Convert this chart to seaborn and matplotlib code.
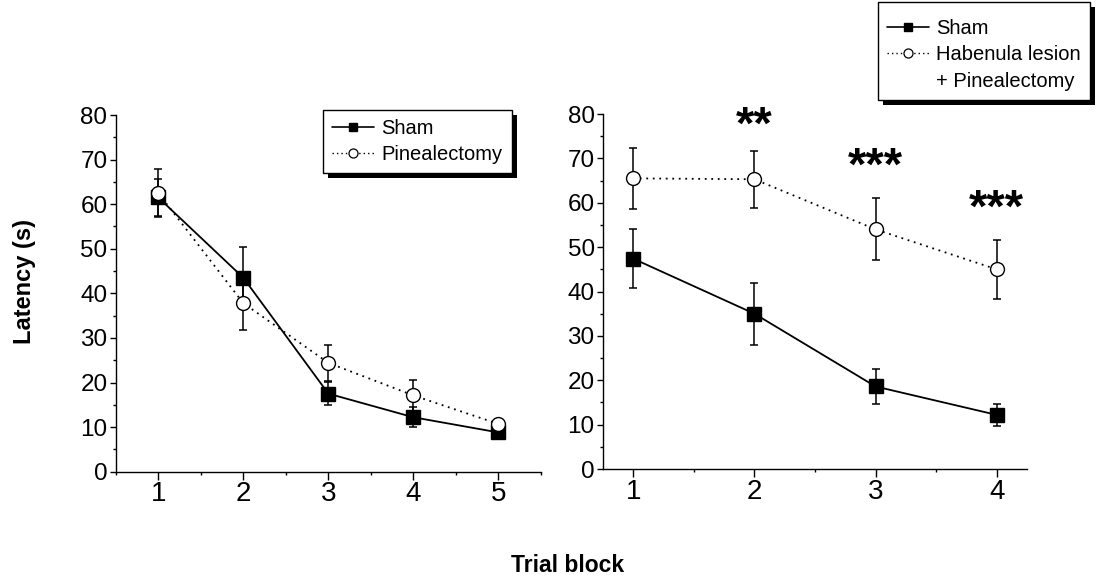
import matplotlib
matplotlib.use("Agg")
import matplotlib.pyplot as plt
from matplotlib.lines import Line2D
from matplotlib.patches import Rectangle
from matplotlib.ticker import MultipleLocator
import numpy as np
import pandas as pd
import seaborn as sns

# Experiment A: sham vs pinealectomy
blocks_a = [1, 2, 3, 4, 5]
sham_a = [61.5, 43.5, 17.5, 12.2, 8.8]
sham_a_sem = [4.2, 7.0, 2.6, 2.2, 0.8]
pinx_a = [62.5, 37.8, 24.4, 17.1, 10.7]
pinx_a_sem = [5.3, 6.0, 4.1, 3.5, 0.5]

# Experiment B: sham vs habenula lesion + pinealectomy
blocks_b = [1, 2, 3, 4]
sham_b = [47.4, 35.0, 18.6, 12.2]
sham_b_sem = [6.7, 7.0, 3.9, 2.4]
hab_b = [65.5, 65.3, 54.0, 45.0]
hab_b_sem = [6.8, 6.4, 7.0, 6.7]
stars_b = ["", "**", "***", "***"]
star_base = [0, 74.4, 65.1, 55.7]

sns.set_theme(style="ticks")
plt.rcParams["font.family"] = ["Liberation Sans", "DejaVu Sans"]
plt.rcParams["axes.linewidth"] = 1.0
for key in ("text.color", "axes.labelcolor", "xtick.color", "ytick.color",
            "axes.edgecolor"):
    plt.rcParams[key] = "black"

fig = plt.figure(figsize=(11, 5.75), dpi=100)
ax1 = fig.add_axes([0.1052, 0.1797, 0.3866, 0.6203])
ax2 = fig.add_axes([0.5482, 0.1843, 0.3854, 0.6174])

DOT = (1, 2.6)


def draw_group(ax, x, y, sem, marker, face, dashes, label):
    df = pd.DataFrame({"block": x, "latency": y})
    ax.errorbar(x, y, yerr=sem, fmt="none", ecolor="black", elinewidth=1.1,
                capsize=3, capthick=1.1, zorder=1.5)
    sns.lineplot(data=df, x="block", y="latency", ax=ax, color="black",
                 linewidth=1.3, marker=marker, markersize=10,
                 markerfacecolor=face, markeredgecolor="black",
                 markeredgewidth=1.0, errorbar=None,
                 label=label, legend=False, zorder=2)
    if dashes is not None:
        ax.lines[-1].set_dashes(dashes)


draw_group(ax1, blocks_a, sham_a, sham_a_sem, "s", "black", None, "Sham")
draw_group(ax1, blocks_a, pinx_a, pinx_a_sem, "o", "white", DOT, "Pinealectomy")
draw_group(ax2, blocks_b, sham_b, sham_b_sem, "s", "black", None, "Sham")
draw_group(ax2, blocks_b, hab_b, hab_b_sem, "o", "white", DOT,
           "Habenula lesion + Pinealectomy")

for xb, s, yy in zip(blocks_b, stars_b, star_base):
    if s:
        ax2.text(xb, yy, s, ha="center", va="baseline", fontsize=34,
                 fontweight="bold")

for ax in (ax1, ax2):
    ax.set_ylim(0, 80)
    ax.yaxis.set_major_locator(MultipleLocator(10))
    ax.yaxis.set_minor_locator(MultipleLocator(5))
    ax.xaxis.set_major_locator(MultipleLocator(1))
    ax.xaxis.set_minor_locator(MultipleLocator(0.5))
    ax.set_xlabel("")
    ax.set_ylabel("")
    sns.despine(ax=ax)
    ax.tick_params(axis="y", which="major", direction="out", length=4.5,
                   width=1, labelsize=17.5, pad=1.5)
    ax.tick_params(axis="y", which="minor", direction="out", length=2.2,
                   width=1)
    ax.tick_params(axis="x", which="major", direction="out", length=5.5,
                   width=1, labelsize=20, pad=1.5)
    ax.tick_params(axis="x", which="minor", direction="out", length=2,
                   width=1)
ax1.set_xlim(0.5, 5.5)
ax2.set_xlim(0.75, 4.25)


def legend_handles(n_blank=0):
    h1 = Line2D([], [], color="black", lw=1.2, marker="s", markersize=6,
                markerfacecolor="black", markeredgecolor="black")
    h2 = Line2D([], [], color="black", lw=1.0, dashes=(1, 2.2), marker="o",
                markersize=6.5, markerfacecolor="white",
                markeredgecolor="black", markeredgewidth=0.9)
    blank = [Line2D([], [], lw=0) for _ in range(n_blank)]
    return [h1, h2] + blank


leg_kw = dict(frameon=True, fancybox=False, edgecolor="black",
              framealpha=1, fontsize=14.5, handlelength=2.1,
              handletextpad=0.35, borderaxespad=0, labelspacing=0.36,
              borderpad=0.45, bbox_transform=fig.transFigure,
              loc="upper left")
leg1 = ax1.legend(legend_handles(), ["Sham", "Pinealectomy"],
                  bbox_to_anchor=(0.2936, 0.8087), **leg_kw)
# a tiny blank title gives the upper box some extra headroom
leg2 = ax2.legend(legend_handles(1),
                  ["Sham", "Habenula lesion", "+ Pinealectomy"],
                  bbox_to_anchor=(0.798, 0.997), title=" ",
                  title_fontsize=1, **leg_kw)
for leg in (leg1, leg2):
    leg.get_frame().set_linewidth(1.0)

fig.text(0.0227, 0.5104, "Latency (s)", rotation=90, ha="center",
         va="center", fontsize=17, fontweight="bold")
fig.text(0.516, 0.0052, "Trial block", ha="center", va="baseline",
         fontsize=16.5, fontweight="bold")

# solid drop shadows behind the legend boxes
fig.canvas.draw()
renderer = fig.canvas.get_renderer()
for ax, leg in ((ax1, leg1), (ax2, leg2)):
    bb = leg.get_frame().get_window_extent(renderer)
    off = 5
    x0, y0 = fig.transFigure.inverted().transform((bb.x0 + off, bb.y0 - off))
    x1, y1 = fig.transFigure.inverted().transform((bb.x1 + off, bb.y1 - off))
    ax.add_artist(Rectangle((x0, y0), x1 - x0, y1 - y0,
                            transform=fig.transFigure, facecolor="black",
                            edgecolor="none", zorder=4.9, clip_on=False))

fig.savefig("out.png", dpi=100, facecolor="white")
